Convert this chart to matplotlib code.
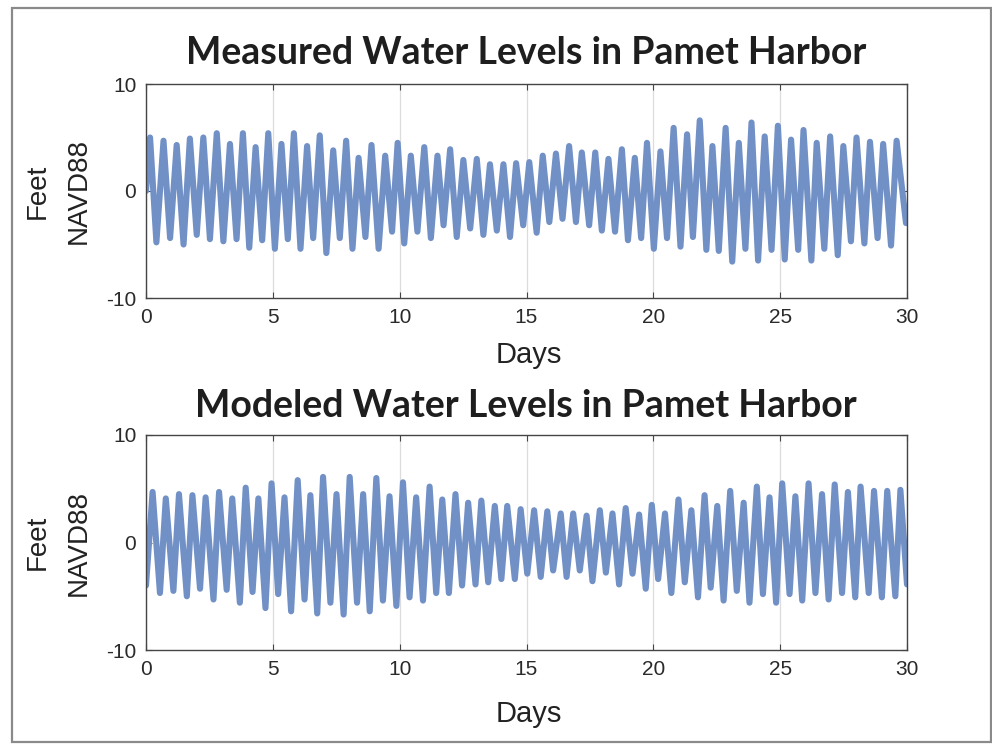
import matplotlib
matplotlib.use("Agg")
import matplotlib.pyplot as plt
from matplotlib.patches import Rectangle
import numpy as np

# ---------------- data ----------------
titles = ["Measured Water Levels in Pamet Harbor", "Modeled Water Levels in Pamet Harbor"]
x_label = "Days"
y_label = "Feet\nNAVD88"
x_ticks = [0, 5, 10, 15, 20, 25, 30]
y_ticks = [-10, 0, 10]

# Measured: high-water and low-water times (days) and levels (ft)
meas_start = (0.0, 0.0)
meas_end = (29.96, -3.0)
meas_high_t = [0.16, 0.69, 1.21, 1.73, 2.26, 2.79, 3.31, 3.82, 4.32, 4.82,
               5.34, 5.83, 6.35, 6.85, 7.38, 7.89, 8.38, 8.89, 9.43, 9.92,
               10.44, 10.97, 11.49, 11.99, 12.51, 13.04, 13.56, 14.09, 14.59, 15.11,
               15.64, 16.16, 16.68, 17.18, 17.71, 18.23, 18.76, 19.27, 19.75, 20.28,
               20.80, 21.33, 21.83, 22.33, 22.85, 23.37, 23.87, 24.39, 24.91, 25.43,
               25.92, 26.44, 26.97, 27.49, 28.01, 28.54, 29.06, 29.59]
meas_high_v = [5.0, 4.7, 4.3, 4.9, 5.0, 5.4, 4.4, 5.4, 4.1, 5.4,
               4.4, 5.4, 4.2, 5.2, 3.8, 4.7, 3.1, 4.3, 3.3, 4.5,
               3.3, 4.1, 3.3, 3.9, 2.9, 3.0, 2.5, 2.5, 2.6, 2.7,
               3.3, 3.5, 4.2, 3.6, 3.6, 3.0, 3.9, 3.1, 4.5, 3.7,
               5.9, 5.3, 6.6, 4.2, 5.9, 4.5, 6.4, 5.1, 6.1, 4.8,
               5.7, 4.5, 5.1, 4.2, 5.0, 4.6, 4.4, 4.7]
meas_low_t = [0.41, 0.95, 1.48, 2.00, 2.52, 3.05, 3.57, 4.07, 4.58, 5.08,
              5.59, 6.09, 6.59, 7.11, 7.64, 8.14, 8.65, 9.17, 9.70, 10.18,
              10.70, 11.23, 11.73, 12.25, 12.78, 13.30, 13.83, 14.35, 14.87, 15.40,
              15.90, 16.42, 16.95, 17.47, 17.97, 18.49, 19.00, 19.52, 20.02, 20.54,
              21.07, 21.56, 22.09, 22.58, 23.11, 23.63, 24.13, 24.66, 25.18, 25.71,
              26.23, 26.74, 27.27, 27.79, 28.32, 28.84, 29.37]
meas_low_v = [-4.8, -4.4, -5.0, -4.1, -4.5, -4.7, -4.5, -5.3, -4.6, -5.4,
              -4.5, -5.4, -4.4, -5.8, -4.4, -5.4, -4.3, -5.4, -3.8, -4.9,
              -3.8, -4.4, -3.2, -4.3, -3.5, -4.1, -3.7, -4.3, -3.2, -3.9,
              -2.9, -2.6, -2.9, -3.2, -3.7, -3.8, -4.6, -4.4, -5.4, -4.4,
              -5.2, -4.3, -5.5, -5.6, -6.6, -5.4, -6.5, -5.5, -6.4, -5.5,
              -6.5, -5.4, -6.0, -4.7, -4.9, -4.4, -5.1]

# Modeled
mod_start = (0.0, -4.0)
mod_end = (30.0, -3.9)
mod_high_t = [0.26, 0.78, 1.30, 1.83, 2.35, 2.88, 3.40, 3.93, 4.43, 4.95,
              5.46, 5.98, 6.48, 6.98, 7.51, 8.03, 8.56, 9.08, 9.60, 10.13,
              10.65, 11.18, 11.68, 12.20, 12.70, 13.22, 13.75, 14.24, 14.77, 15.30,
              15.82, 16.35, 16.84, 17.37, 17.89, 18.39, 18.91, 19.44, 19.94, 20.46,
              20.99, 21.50, 22.02, 22.52, 23.03, 23.56, 24.08, 24.58, 25.08, 25.60,
              26.12, 26.65, 27.15, 27.67, 28.17, 28.70, 29.22, 29.74]
mod_high_v = [4.7, 4.1, 4.5, 4.4, 4.2, 4.7, 4.1, 5.1, 4.1, 5.5,
              4.2, 5.8, 4.4, 6.1, 4.5, 6.1, 4.5, 6.0, 4.3, 5.6,
              4.2, 5.2, 4.0, 4.5, 3.7, 3.9, 3.4, 3.4, 3.1, 3.0,
              2.9, 2.7, 2.7, 2.5, 3.0, 2.7, 3.2, 2.6, 3.5, 2.7,
              4.0, 3.0, 4.4, 3.4, 4.8, 3.7, 5.2, 4.2, 5.5, 4.3,
              5.5, 4.5, 5.4, 4.7, 5.2, 4.8, 4.8, 4.9]
mod_low_t = [0.55, 1.08, 1.61, 2.13, 2.66, 3.18, 3.70, 4.20, 4.71, 5.21,
             5.72, 6.25, 6.75, 7.27, 7.79, 8.32, 8.82, 9.34, 9.87, 10.39,
             10.92, 11.44, 11.94, 12.46, 12.99, 13.49, 14.01, 14.54, 15.03, 15.56,
             16.05, 16.58, 17.10, 17.60, 18.13, 18.65, 19.18, 19.70, 20.19, 20.71,
             21.24, 21.76, 22.26, 22.77, 23.29, 23.79, 24.32, 24.84, 25.37, 25.87,
             26.39, 26.91, 27.44, 27.96, 28.49, 29.01, 29.54]
mod_low_v = [-4.7, -4.5, -5.0, -4.3, -5.3, -4.4, -5.6, -4.6, -6.1, -4.8,
             -6.4, -5.3, -6.6, -5.6, -6.7, -5.6, -6.4, -5.4, -5.9, -5.1,
             -5.4, -4.7, -4.7, -4.0, -3.9, -3.7, -3.4, -3.4, -2.9, -3.2,
             -2.6, -3.2, -2.6, -3.6, -2.8, -3.9, -2.9, -4.3, -3.4, -4.7,
             -3.7, -5.1, -4.2, -5.4, -4.5, -5.6, -4.8, -5.6, -4.8, -5.4,
             -4.7, -5.3, -4.7, -5.1, -4.7, -5.1, -5.0]


def series(start, high_t, high_v, low_t, low_v, end):
    t = [start[0]] + list(high_t) + list(low_t) + [end[0]]
    v = [start[1]] + list(high_v) + list(low_v) + [end[1]]
    order = np.argsort(t, kind="stable")
    return np.asarray(t)[order], np.asarray(v)[order]


panels = [
    series(meas_start, meas_high_t, meas_high_v, meas_low_t, meas_low_v, meas_end),
    series(mod_start, mod_high_t, mod_high_v, mod_low_t, mod_low_v, mod_end),
]

# ---------------- drawing ----------------
W, H = 992, 747
fig = plt.figure(figsize=(W / 100, H / 100), dpi=100)
fig.patch.set_facecolor("white")

# scanned-page border
fig.patches.append(Rectangle((12 / W, 5 / H), 979 / W, 734 / H, transform=fig.transFigure,
                             fill=False, edgecolor="#8a8a8a", linewidth=1.6))

LINE = "#7190c6"
FRAME = "#454545"
tick_font = dict(family="Liberation Sans", size=15)
label_font = dict(family="Liberation Sans", size=20)
title_font = dict(family="Lato", size=27, weight="bold")

axes_rects = [
    [146 / W, 1 - 298 / H, 761 / W, 214 / H],
    [146 / W, 1 - 650 / H, 761 / W, 215 / H],
]
title_y = [1 - 53 / H, 1 - 406 / H]
xlabel_y = [1 - 355 / H, 1 - 714 / H]

for i, (t, v) in enumerate(panels):
    ax = fig.add_axes(axes_rects[i])
    ax.plot(t, v, color=LINE, linewidth=4.4, solid_joinstyle="round", solid_capstyle="round")
    ax.set_xlim(0, 30)
    ax.set_ylim(-10, 10)
    ax.set_xticks(x_ticks)
    ax.set_yticks(y_ticks)
    ax.set_xticklabels([str(x) for x in x_ticks], fontdict=tick_font, color="#2a2a2a")
    ax.set_yticklabels([str(y) for y in y_ticks], fontdict=tick_font, color="#2a2a2a")
    ax.grid(axis="x", color="#dcdcdc", linewidth=0.9)
    ax.tick_params(direction="in", length=4, width=0.8, color=FRAME,
                   top=True, right=True, pad=7)
    for s in ax.spines.values():
        s.set_color(FRAME)
        s.set_linewidth(1.0)
    ax.set_axisbelow(True)
    fig.text(0.530, title_y[i], titles[i], ha="center", va="center", color="#1e1e1e", **title_font)
    fig.text(0.533, xlabel_y[i], x_label, ha="center", va="center", color="#222222",
             family="Liberation Sans", size=21)
    ax.set_ylabel(y_label, fontdict=label_font, color="#222222", labelpad=10, linespacing=1.75)

fig.savefig("out.png", dpi=100, facecolor="white")
